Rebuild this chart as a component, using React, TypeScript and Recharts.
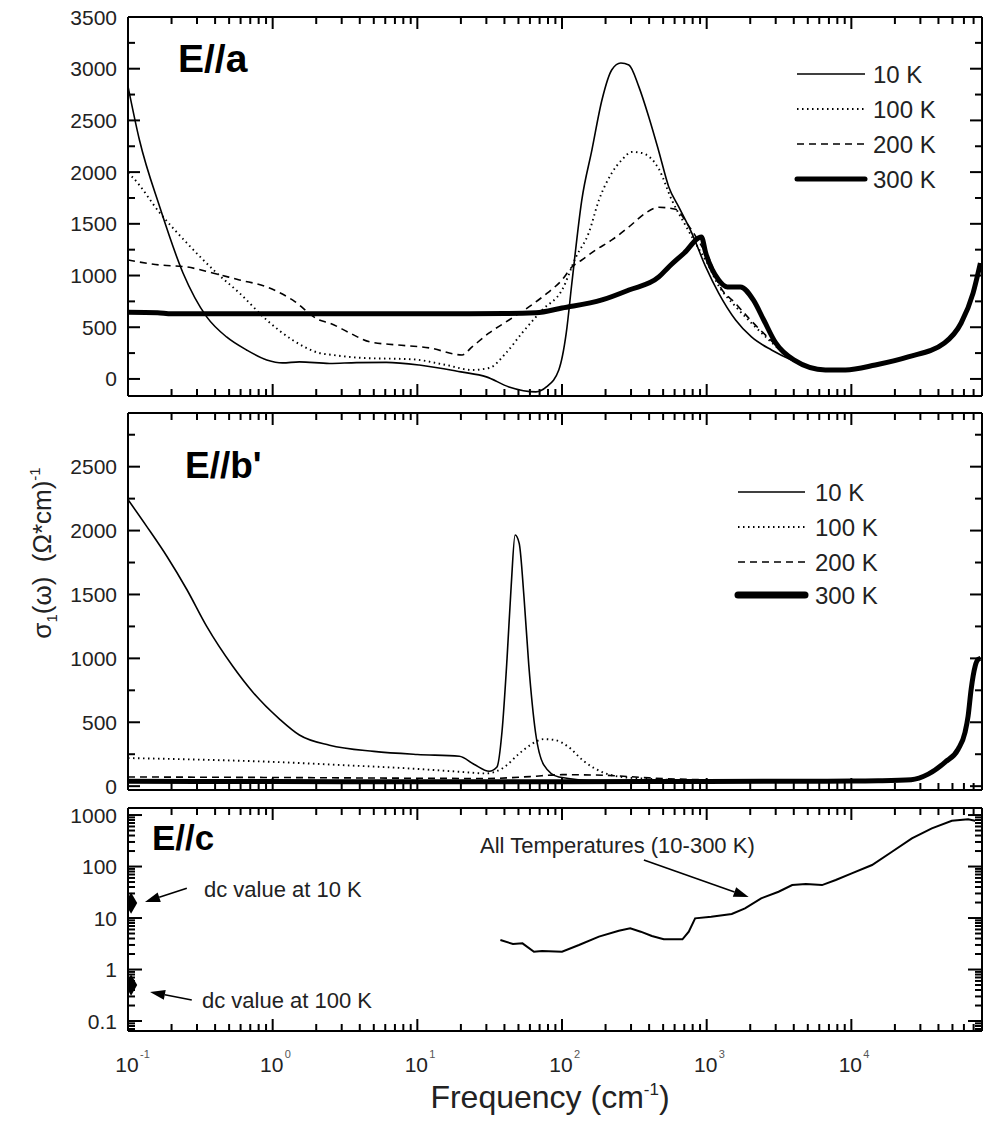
import React from 'react';
import { LineChart, ComposedChart, Line, Scatter, XAxis, YAxis, ZAxis, ReferenceLine } from 'recharts';

const FONT = "'Liberation Sans', Arial, Helvetica, sans-serif";

// ---------- axes / ticks ----------
const X_DOMAIN: [number, number] = [0.1, 80000];
const X_MAJOR = [0.1, 1, 10, 100, 1000, 10000];
const X_EXP = ['-1', '0', '1', '2', '3', '4'];
const X_MINOR = X_MAJOR.flatMap((d) => [2, 3, 4, 5, 6, 7, 8, 9].map((k) => +(k * d).toPrecision(2))).filter((v) => v < X_DOMAIN[1]);
const X_TICKS = [...X_MAJOR, ...X_MINOR].sort((a, b) => a - b);

const A_DOMAIN: [number, number] = [-165, 3500];
const A_MAJOR = [0, 500, 1000, 1500, 2000, 2500, 3000, 3500];
const A_MINOR = [250, 750, 1250, 1750, 2250, 2750, 3250];

const B_DOMAIN: [number, number] = [-30, 2920];
const B_MAJOR = [0, 500, 1000, 1500, 2000, 2500];
const B_MINOR = [250, 750, 1250, 1750, 2250, 2750];

const C_DOMAIN: [number, number] = [0.064, 1370];
const C_MAJOR = [0.1, 1, 10, 100, 1000];
const C_LABELS = ['0.1', '1', '10', '100', '1000'];
const C_MINOR = [0.01, 0.1, 1, 10, 100]
  .flatMap((d) => [2, 3, 4, 5, 6, 7, 8, 9].map((k) => +(k * d).toPrecision(2)))
  .filter((v) => v > C_DOMAIN[0] && v < C_DOMAIN[1]);

const LEGEND_LABELS = ['10 K', '100 K', '200 K', '300 K'];

// ---------- data : [frequency cm^-1, sigma1] ----------
type Pt = [number, number];

// E//a
const A_10K: Pt[] = [
  [0.1, 2830], [0.12, 2310], [0.166, 1660], [0.24, 1025], [0.35, 600], [0.48, 406], [0.66, 280], [0.91, 184],
  [1.17, 155], [1.53, 165], [2.47, 150], [3.8, 158], [6.1, 160], [10.3, 135], [20, 68], [30, 20], [43, -77],
  [66, -125], [78, -77], [95, 87], [107, 445], [117, 928], [137, 1730], [161, 2215], [189, 2700], [221, 2990],
  [255, 3055], [290, 3036], [340, 2824], [398, 2533], [467, 2200], [547, 1857], [641, 1663], [788, 1412],
  [985, 1083], [1210, 830], [1585, 570], [2040, 406], [2806, 280], [3855, 184], [6620, 85], [9100, 85],
  [14650, 133], [24700, 210], [44000, 345], [57400, 538], [69400, 826], [78000, 1115],
];
const A_100K: Pt[] = [
  [0.1, 1990], [0.107, 1953], [0.166, 1605], [0.255, 1315], [0.41, 1025], [0.59, 830], [0.91, 570], [1.37, 377],
  [2.1, 251], [2.6, 232], [4.2, 203], [9.2, 190], [15.8, 135], [23.9, 87], [31.4, 106], [41, 251], [53, 445],
  [73, 667], [100, 860], [125, 1180], [153, 1412], [180, 1730], [221, 1992], [259, 2118], [304, 2195], [356, 2185],
  [467, 2030], [574, 1730], [717, 1480], [881, 1260], [1000, 1130], [1210, 900], [1585, 700], [2040, 540],
  [2680, 380], [3700, 210], [6000, 100], [9100, 84], [14650, 133], [24700, 210], [44000, 345], [57400, 538],
  [69400, 826], [78000, 1115],
];
const A_200K: Pt[] = [
  [0.1, 1150], [0.166, 1102], [0.255, 1083], [0.385, 1025], [0.59, 957], [0.91, 890], [1.37, 764], [2.1, 570],
  [2.47, 541], [3.4, 445], [4.7, 358], [7.2, 329], [12.1, 300], [20.4, 232], [23.9, 310], [31.4, 445], [43, 570],
  [59, 696], [79, 830], [100, 957], [117, 1083], [137, 1150], [171, 1247], [221, 1344], [290, 1470], [379, 1605],
  [467, 1660], [609, 1640], [752, 1480], [945, 1260], [1050, 1150], [1210, 920], [1585, 730], [2040, 560],
  [2680, 395], [3700, 220], [6000, 103], [9100, 85], [14650, 133], [24700, 210], [44000, 345], [57400, 538],
  [69400, 826], [78000, 1115],
];
const A_300K: Pt[] = [
  [0.1, 645], [0.16, 640], [0.2, 630], [1, 630], [10, 630], [40, 632], [66, 640], [100, 686], [189, 764],
  [290, 860], [467, 986], [547, 1083], [700, 1218], [920, 1373], [985, 1218], [1210, 957], [1390, 890],
  [1710, 890], [2100, 764], [2480, 570], [3000, 348], [4000, 184], [6620, 87], [9100, 87], [14650, 135],
  [24700, 213], [44000, 348], [57400, 541], [69400, 830], [78000, 1120],
];

// E//b'
const B_10K: Pt[] = [
  [0.1, 2242], [0.135, 2031], [0.186, 1797], [0.255, 1539], [0.35, 1250], [0.53, 938], [0.73, 735], [1.12, 523],
  [1.53, 400], [2.47, 320], [5, 272], [10, 248], [19.5, 234], [24.6, 172], [31.4, 117], [35.5, 150], [38.5, 430],
  [41.7, 1000], [44.5, 1560], [47.4, 1965], [50.6, 1900], [54.6, 1480], [58.9, 950], [65.6, 420], [75, 165],
  [95, 72], [180, 42], [1000, 38], [10000, 38], [25900, 42], [34000, 90], [44500, 185], [54700, 285],
  [61100, 418], [64100, 543], [67300, 754], [71700, 934], [75200, 988],
];
const B_100K: Pt[] = [
  [0.1, 220], [0.3, 208], [1, 190], [3, 165], [10, 135], [20, 112], [30, 100], [40, 150], [50, 250], [60, 320],
  [75, 368], [90, 360], [110, 310], [140, 200], [200, 100], [300, 65], [1000, 45], [10000, 40], [25900, 43],
  [34000, 90], [44500, 185], [54700, 285], [61100, 418], [64100, 543], [67300, 754], [71700, 934], [75200, 988],
];
const B_200K: Pt[] = [
  [0.1, 72], [1, 68], [10, 62], [30, 60], [60, 75], [100, 90], [200, 85], [400, 65], [1000, 50], [10000, 45],
  [25900, 46], [34000, 90], [44500, 185], [54700, 285], [61100, 418], [64100, 543], [67300, 754], [71700, 934],
  [75200, 988],
];
const B_300K: Pt[] = [
  [0.1, 38], [1, 36], [10, 35], [100, 35], [1000, 37], [10000, 40], [15350, 42], [25900, 50], [34000, 94],
  [44500, 188], [54700, 289], [61100, 422], [64100, 547], [67300, 758], [71700, 938], [75200, 992], [78000, 1000],
];

// E//c
const C_ALL: Pt[] = [
  [37.5, 3.74], [45.8, 3.13], [53.3, 3.22], [64, 2.22], [72.8, 2.28], [100, 2.22], [131, 2.99], [180, 4.35],
  [247, 5.68], [296, 6.3], [350, 5.43], [418, 4.47], [505, 3.86], [680, 3.86], [752, 5.43], [832, 9.86],
  [1075, 10.6], [1490, 12], [1840, 15.4], [2380, 24.1], [3140, 32.4], [3900, 43.6], [4850, 45.7], [6270, 43.6],
  [7800, 54.7], [10060, 73.7], [13900, 107], [19100, 194], [26200, 352], [36000, 551], [49500, 776],
  [64100, 824], [71700, 776],
];
const C_DC_10K: Pt[] = [[0.105, 19.5]];
const C_DC_100K: Pt[] = [[0.105, 0.5]];

// annotation arrows (data coordinates): [from, to]
const ARROW_DC10: Pt[] = [[0.255, 38], [0.131, 20.5]];
const ARROW_DC100: Pt[] = [[0.276, 0.256], [0.142, 0.366]];
const ARROW_ALL: Pt[] = [[368, 134], [1950, 25.6]];

const rows = (pts: Pt[]) => pts.map(([f, v]) => ({ f, v }));

// ---------- styles ----------
const S10 = { stroke: '#000', strokeWidth: 1.6 };
const S100 = { stroke: '#000', strokeWidth: 1.9, strokeDasharray: '1.5 3.5' };
const S200 = { stroke: '#000', strokeWidth: 1.6, strokeDasharray: '7 5' };
const S300 = { stroke: '#000', strokeWidth: 5 };
const STYLES = [S10, S100, S200, S300];
const AXIS = { stroke: '#000', strokeWidth: 2 };

const isIn = (arr: number[], v: number) => arr.findIndex((m) => Math.abs(m - v) <= 1e-9 * Math.max(1e-6, Math.abs(m)));

// vertical reference line -> inward ticks at top and bottom (+ optional label)
function makeXTickShape(idx: number, labelled: boolean) {
  return (p: any) => {
    const { x1, y1, y2 } = p;
    const top = Math.min(y1, y2);
    const bot = Math.max(y1, y2);
    const len = idx >= 0 ? 12 : 7;
    return (
      <g>
        <line x1={x1} x2={x1} y1={bot} y2={bot - len} stroke="#000" strokeWidth={2} />
        <line x1={x1} x2={x1} y1={top} y2={top + len} stroke="#000" strokeWidth={2} />
        {labelled && idx >= 0 ? (
          <text x={x1 - 1} y={bot + 41} textAnchor="middle" fontFamily={FONT} fontSize={21} fill="#222">10</text>
        ) : null}
        {labelled && idx >= 0 ? (
          <text x={x1 + 12} y={bot + 27} fontFamily={FONT} fontSize={11} fill="#555">{X_EXP[idx]}</text>
        ) : null}
      </g>
    );
  };
}

// horizontal reference line -> inward ticks at left and right (+ label)
function makeYTickShape(label: string | null, len: number) {
  return (p: any) => {
    const { x1, x2, y1 } = p;
    const left = Math.min(x1, x2);
    const right = Math.max(x1, x2);
    return (
      <g>
        <line x1={left} x2={left + len} y1={y1} y2={y1} stroke="#000" strokeWidth={2} />
        <line x1={right} x2={right - len} y1={y1} y2={y1} stroke="#000" strokeWidth={2} />
        {label ? (
          <text x={left - 11} y={y1} dy="0.36em" textAnchor="end" fontFamily={FONT} fontSize={21} fill="#222">{label}</text>
        ) : null}
      </g>
    );
  };
}

function frame(
  yDomain: [number, number],
  yScale: 'linear' | 'log',
  yMajors: number[],
  yMinors: number[],
  yLabels: string[],
  xLabelled: boolean,
  xHeight: number,
  major: number,
  minor: number,
) {
  const axes = [
    <XAxis key="xb" xAxisId="b" orientation="bottom" type="number" dataKey="f" scale="log" domain={X_DOMAIN}
      allowDataOverflow height={xHeight} axisLine={AXIS} tickLine={false} tick={false} />,
    <XAxis key="xt" xAxisId="t" orientation="top" type="number" dataKey="f" scale="log" domain={X_DOMAIN}
      allowDataOverflow height={1} axisLine={AXIS} tickLine={false} tick={false} />,
    <YAxis key="yl" yAxisId="l" orientation="left" type="number" scale={yScale} domain={yDomain}
      allowDataOverflow width={60} axisLine={AXIS} tickLine={false} tick={false} />,
    <YAxis key="yr" yAxisId="r" orientation="right" type="number" scale={yScale} domain={yDomain}
      allowDataOverflow width={1} axisLine={AXIS} tickLine={false} tick={false} />,
  ];
  const xt = X_TICKS.map((v) => (
    <ReferenceLine key={'xtick' + v} x={v} xAxisId="b" yAxisId="l" ifOverflow="visible"
      shape={makeXTickShape(isIn(X_MAJOR, v), xLabelled)} />
  ));
  const ytMaj = yMajors.map((v, i) => (
    <ReferenceLine key={'ymaj' + v} y={v} xAxisId="b" yAxisId="l" ifOverflow="visible"
      shape={makeYTickShape(yLabels[i], major)} />
  ));
  const ytMin = yMinors.map((v) => (
    <ReferenceLine key={'ymin' + v} y={v} xAxisId="b" yAxisId="l" ifOverflow="visible"
      shape={makeYTickShape(null, minor)} />
  ));
  return [...axes, ...xt, ...ytMaj, ...ytMin];
}

function series(list: Pt[][]) {
  const out = list.map((pts, i) => (
    <Line key={'s' + i} data={rows(pts)} dataKey="v" xAxisId="b" yAxisId="l" type="monotone" dot={false}
      activeDot={false} isAnimationActive={false} fill="none" {...STYLES[i]} />
  ));
  out.push(
    <Line key="hidden" data={rows(list[0])} dataKey="v" xAxisId="t" yAxisId="r" stroke="none" dot={false}
      activeDot={false} isAnimationActive={false} />,
  );
  return out;
}

const Arrow = (p: any) => {
  const { x1, y1, x2, y2 } = p;
  const dx = x2 - x1;
  const dy = y2 - y1;
  const L = Math.hypot(dx, dy) || 1;
  const ux = dx / L;
  const uy = dy / L;
  const hl = 15;
  const hw = 5;
  const bx = x2 - ux * hl;
  const by = y2 - uy * hl;
  return (
    <g>
      <line x1={x1} y1={y1} x2={bx} y2={by} stroke="#000" strokeWidth={1.6} />
      <polygon points={`${x2},${y2} ${bx - uy * hw},${by + ux * hw} ${bx + uy * hw},${by - ux * hw}`} fill="#000" />
    </g>
  );
};

const arrow = (key: string, pts: Pt[]) => (
  <ReferenceLine key={key} xAxisId="b" yAxisId="l" segment={[{ x: pts[0][0], y: pts[0][1] }, { x: pts[1][0], y: pts[1][1] }]}
    shape={Arrow} ifOverflow="visible" />
);

function Legend({ x, ys, textX, thick }: { x: [number, number]; ys: number[]; textX: number; thick: number }) {
  return (
    <g>
      {LEGEND_LABELS.map((lab, i) => (
        <g key={lab}>
          <line x1={x[0]} x2={x[1]} y1={ys[i]} y2={ys[i]} {...STYLES[i]}
            strokeWidth={i === 3 ? thick : STYLES[i].strokeWidth} strokeLinecap={i === 3 ? 'round' : 'butt'} />
          <text x={textX} y={ys[i]} dy="0.36em" fontFamily={FONT} fontSize={24} fill="#222">{lab}</text>
        </g>
      ))}
    </g>
  );
}

const NBSP2 = '\u00A0\u00A0';

export default function App() {
  return (
    <div style={{ position: 'absolute', left: 0, top: 0, width: 990, height: 1122, background: '#fff', overflow: 'hidden' }}>
      {/* E//a */}
      <div style={{ position: 'absolute', left: 0, top: 0 }}>
        <LineChart width={990} height={410} margin={{ top: 16, right: 7, bottom: 13, left: 68 }}>
          {frame(A_DOMAIN, 'linear', A_MAJOR, A_MINOR, A_MAJOR.map(String), false, 1, 12, 7)}
          {series([A_10K, A_100K, A_200K, A_300K])}
        </LineChart>
      </div>
      {/* E//b' */}
      <div style={{ position: 'absolute', left: 0, top: 400 }}>
        <LineChart width={990} height={400} margin={{ top: 12, right: 7, bottom: 9, left: 68 }}>
          {frame(B_DOMAIN, 'linear', B_MAJOR, B_MINOR, B_MAJOR.map(String), false, 1, 12, 7)}
          {series([B_10K, B_100K, B_200K, B_300K])}
        </LineChart>
      </div>
      {/* E//c */}
      <div style={{ position: 'absolute', left: 0, top: 795 }}>
        <ComposedChart width={990} height={327} margin={{ top: 12, right: 7, bottom: 31, left: 68 }}>
          {frame(C_DOMAIN, 'log', C_MAJOR, C_MINOR, C_LABELS, true, 60, 14, 7)}
          <ZAxis range={[130, 130]} />
          <Line data={rows(C_ALL)} dataKey="v" xAxisId="b" yAxisId="l" type="linear" dot={false} activeDot={false}
            isAnimationActive={false} stroke="#000" strokeWidth={2} />
          <Line data={rows(C_ALL)} dataKey="v" xAxisId="t" yAxisId="r" stroke="none" dot={false} activeDot={false}
            isAnimationActive={false} />
          <Scatter data={rows(C_DC_10K)} dataKey="v" xAxisId="b" yAxisId="l" shape="diamond" fill="#000" isAnimationActive={false} />
          <Scatter data={rows(C_DC_100K)} dataKey="v" xAxisId="b" yAxisId="l" shape="diamond" fill="#000" isAnimationActive={false} />
          {arrow('a1', ARROW_DC10)}
          {arrow('a2', ARROW_DC100)}
          {arrow('a3', ARROW_ALL)}
        </ComposedChart>
      </div>

      {/* text overlay */}
      <svg width={990} height={1122} style={{ position: 'absolute', left: 0, top: 0, pointerEvents: 'none' }}>
        <text x={178} y={72} fontFamily={FONT} fontWeight="bold" fontSize={39} fill="#000">E//a</text>
        <text x={185} y={478} fontFamily={FONT} fontWeight="bold" fontSize={37} fill="#000">E//b'</text>
        <text x={152} y={850} fontFamily={FONT} fontWeight="bold" fontSize={35} fill="#000">E//c</text>

        <Legend x={[797, 865]} ys={[74, 109, 144, 179]} textX={873} thick={5} />
        <Legend x={[738, 805]} ys={[492, 527, 562, 595]} textX={815} thick={7} />

        <text x={204} y={897} fontFamily={FONT} fontSize={22} fill="#222">dc value at 10 K</text>
        <text x={202} y={1008} fontFamily={FONT} fontSize={22} fill="#222">dc value at 100 K</text>
        <text x={480} y={853} fontFamily={FONT} fontSize={22} fill="#222">All Temperatures (10-300 K)</text>

        <text transform="translate(51,553) rotate(-90)" textAnchor="middle" fontFamily={FONT} fontSize={26} fill="#222">
          σ<tspan dy={6} fontSize={15}>1</tspan>
          <tspan dy={-6}>{'(ω)' + NBSP2 + '(Ω*cm)'}</tspan>
          <tspan dy={-11} fontSize={15}>-1</tspan>
        </text>

        <text x={550} y={1108} textAnchor="middle" fontFamily={FONT} fontSize={32} fill="#222">
          Frequency (cm<tspan dy={-13} fontSize={17}>-1</tspan>
          <tspan dy={13}>)</tspan>
        </text>
      </svg>
    </div>
  );
}
